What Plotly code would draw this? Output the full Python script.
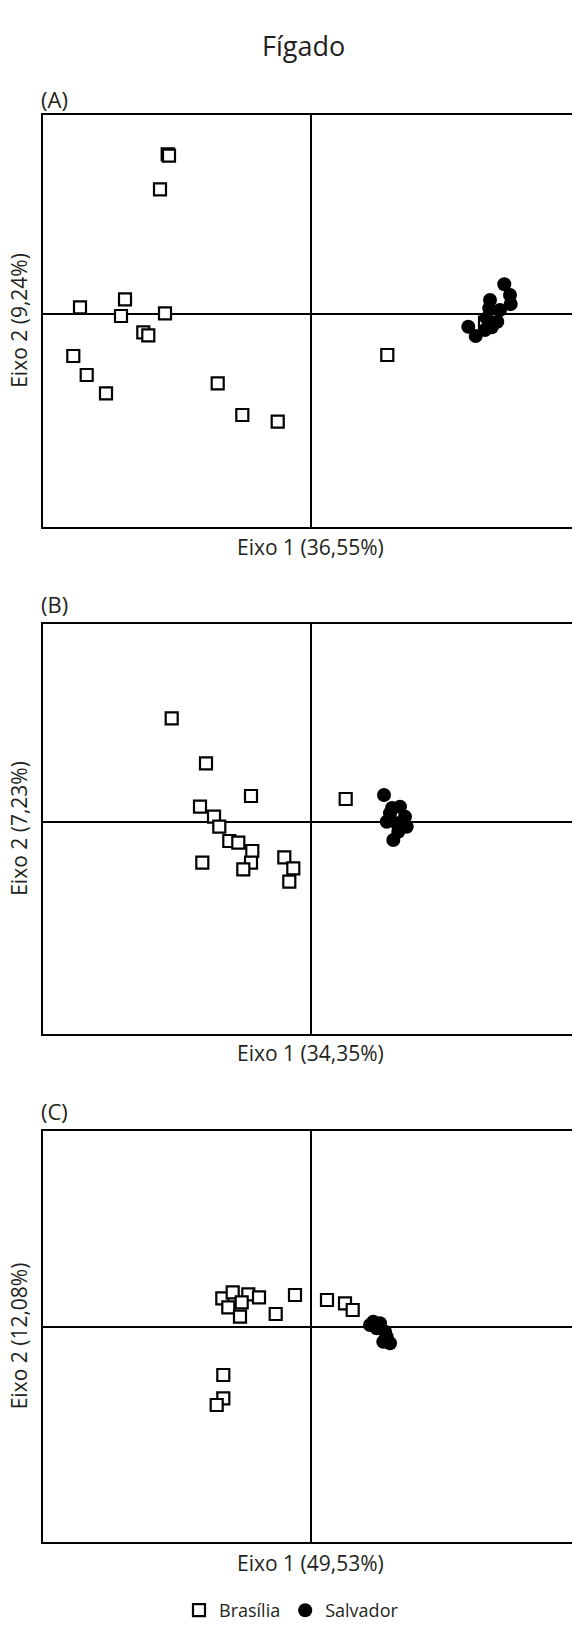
import plotly.graph_objects as go

# ---- Data (PCA scores, arbitrary units) ----
panels = ["(A)", "(B)", "(C)"]
x_titles = ["Eixo 1 (36,55%)", "Eixo 1 (34,35%)", "Eixo 1 (49,53%)"]
y_titles = ["Eixo 2 (9,24%)", "Eixo 2 (7,23%)", "Eixo 2 (12,08%)"]
groups = ["Brasília", "Salvador"]

# Panel A
bra_a_x = [-1.428, -1.415, -1.505, -2.305, -1.855, -1.895, -1.455, -1.672, -1.622,
           -2.372, -2.238, -2.045, -0.928, -0.682, -0.328, 0.768, 1.745]
bra_a_y = [1.597, 1.583, 1.247, 0.067, 0.147, -0.020, 0.007, -0.183, -0.213,
           -0.420, -0.610, -0.793, -0.693, -1.010, -1.077, -0.410, -0.087]
sal_a_x = [1.578, 1.652, 1.795, 1.788, 1.762, 1.812, 1.868, 1.895, 1.938, 1.995, 2.002, 1.745]
sal_a_y = [-0.127, -0.220, 0.140, 0.057, -0.043, -0.133, -0.077, 0.040, 0.297, 0.190, 0.100, -0.160]

# Panel B
bra_b_x = [-1.388, -1.045, -0.595, -1.105, -0.965, -0.912, -0.812, -0.722, -0.582,
           -0.595, -0.672, -1.082, -0.262, -0.172, -0.212, 0.352]
bra_b_y = [1.040, 0.590, 0.263, 0.156, 0.056, -0.044, -0.187, -0.204, -0.287,
           -0.404, -0.470, -0.404, -0.350, -0.460, -0.594, 0.233]
sal_b_x = [0.735, 0.795, 0.895, 0.945, 0.762, 0.862, 0.962, 0.878, 0.828, 0.815]
sal_b_y = [0.273, 0.090, 0.156, 0.056, 0.006, -0.010, -0.044, -0.094, -0.177, 0.143]

# Panel C
bra_c_x = [-0.882, -0.778, -0.622, -0.515, -0.822, -0.688, -0.705, -0.348, -0.155,
           0.165, 0.345, 0.422, -0.872, -0.872, -0.938]
bra_c_y = [0.287, 0.347, 0.327, 0.297, 0.197, 0.247, 0.103, 0.130, 0.320,
           0.270, 0.237, 0.170, -0.480, -0.713, -0.780]
sal_c_x = [0.595, 0.628, 0.695, 0.662, 0.745, 0.762, 0.728, 0.795]
sal_c_y = [0.020, 0.053, 0.037, -0.013, -0.047, -0.097, -0.147, -0.163]

bra_x = [bra_a_x, bra_b_x, bra_c_x]
bra_y = [bra_a_y, bra_b_y, bra_c_y]
sal_x = [sal_a_x, sal_b_x, sal_c_x]
sal_y = [sal_a_y, sal_b_y, sal_c_y]

# ---- Layout geometry ----
W, H = 572, 1629
ML, MR = 43, 0
PW = W - ML - MR
x_range = [-2.675, 2.615]
y_ranges = [[-2.126, 1.990], [-2.113, 1.983], [-2.150, 1.964]]
panel_px = [(115, 526.6), (624, 1033.6), (1130.6, 1542)]  # top, bottom in px
label_y_px = [98.5, 604, 1111]
xtitle_y_px = [547.4, 1053, 1563]


def px_x(p):
    return (p - ML) / PW


def px_y(p):
    return 1 - p / H


TXT = "#231f20"
FONT = "Open Sans"

fig = go.Figure()
for i in range(3):
    ax = "" if i == 0 else str(i + 1)
    fig.add_trace(go.Scatter(
        x=bra_x[i], y=bra_y[i], mode="markers", name=groups[0],
        legendgroup="bra", showlegend=(i == 0),
        marker=dict(symbol="square", size=12, color="white",
                    line=dict(color="black", width=2.2)),
        xaxis="x" + ax, yaxis="y" + ax, hoverinfo="skip"))
    fig.add_trace(go.Scatter(
        x=sal_x[i], y=sal_y[i], mode="markers", name=groups[1],
        legendgroup="sal", showlegend=(i == 0),
        marker=dict(symbol="circle", size=14, color="black",
                    line=dict(color="black", width=0)),
        xaxis="x" + ax, yaxis="y" + ax, hoverinfo="skip"))

layout = dict(
    width=W, height=H,
    margin=dict(l=ML, r=MR, t=0, b=0),
    paper_bgcolor="white", plot_bgcolor="white",
    font=dict(family=FONT, color=TXT),
    legend=dict(orientation="h", x=px_x(179), y=0.0, xanchor="left", yanchor="bottom",
                font=dict(size=18, family=FONT, color=TXT),
                itemsizing="trace", bgcolor="rgba(0,0,0,0)"),
    annotations=[],
)

for i in range(3):
    ax = "" if i == 0 else str(i + 1)
    top, bot = panel_px[i]
    dom = [px_y(bot), px_y(top)]
    layout["xaxis" + ax] = dict(
        domain=[0, 1], range=x_range, showline=True, mirror=True, linecolor="black",
        linewidth=2, showgrid=False, zeroline=True, zerolinecolor="black",
        zerolinewidth=2, showticklabels=False, ticks="", anchor="y" + ax, fixedrange=True)
    layout["yaxis" + ax] = dict(
        domain=dom, range=y_ranges[i], showline=True, mirror=False, linecolor="black",
        linewidth=2, showgrid=False, zeroline=True, zerolinecolor="black",
        zerolinewidth=2, showticklabels=False, ticks="", anchor="x" + ax, fixedrange=True)
    layout["annotations"].append(dict(
        text=panels[i], xref="paper", yref="paper", x=px_x(39), y=px_y(label_y_px[i]),
        xanchor="left", yanchor="middle", showarrow=False,
        font=dict(size=22, family=FONT, color=TXT)))
    layout["annotations"].append(dict(
        text=x_titles[i], xref="paper", yref="paper", x=px_x(310), y=px_y(xtitle_y_px[i]),
        xanchor="center", yanchor="middle", showarrow=False,
        font=dict(size=21, family=FONT, color=TXT)))
    layout["annotations"].append(dict(
        text=y_titles[i], xref="paper", yref="paper", x=px_x(19),
        y=px_y((top + bot) / 2), xanchor="center", yanchor="middle",
        showarrow=False, textangle=-90,
        font=dict(size=21, family=FONT, color=TXT)))

layout["annotations"].append(dict(
    text="Fígado", xref="paper", yref="paper", x=px_x(303), y=px_y(45.6),
    xanchor="center", yanchor="middle", showarrow=False,
    font=dict(size=27, family=FONT, color=TXT)))

fig.update_layout(**layout)
fig.write_html("out.html")
